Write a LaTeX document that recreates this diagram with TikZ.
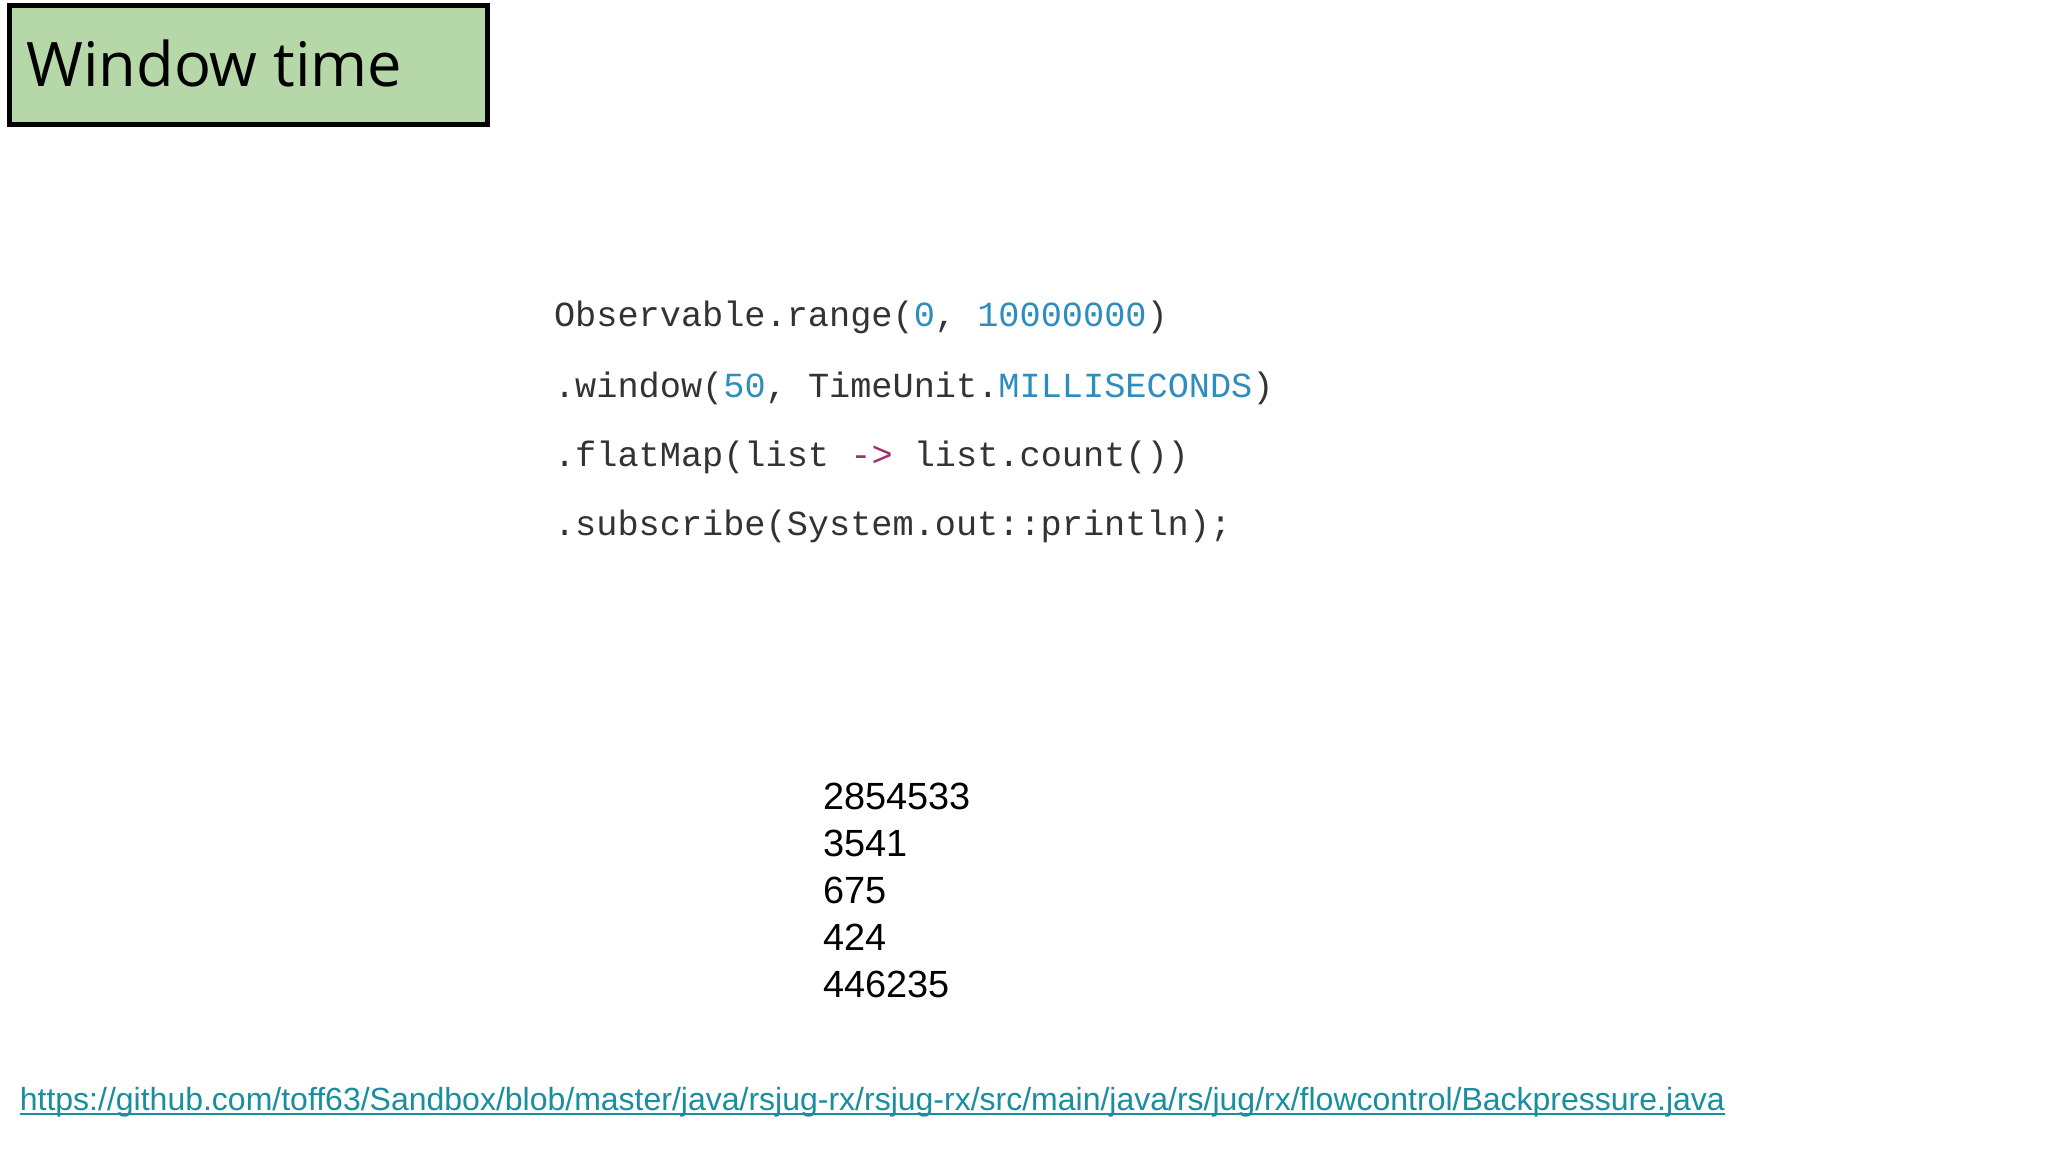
\documentclass[tikz,border=0pt]{standalone}
\usepackage{fontspec}
\setmainfont{Liberation Sans}
\newfontfamily\titlefont{Open Sans}
\newfontfamily\codefont{Liberation Mono}
\definecolor{titlegreen}{HTML}{B6D7A8}
\definecolor{codegray}{HTML}{333333}
\definecolor{codeblue}{HTML}{2E8DBF}
\definecolor{codepurple}{HTML}{A0306A}
\definecolor{linkteal}{HTML}{1A8E9E}
\begin{document}
\begin{tikzpicture}[x=1pt,y=-1pt,
  codeline/.style={anchor=base west,inner sep=0,font=\codefont\fontsize{27}{30}\selectfont,text=codegray},
  numline/.style={anchor=base west,inner sep=0,font=\fontsize{29}{32}\selectfont}]
\useasboundingbox[fill=white] (0,0) rectangle (1568,882);
\node[draw=black,line width=3.5pt,fill=titlegreen,minimum width=366pt,minimum height=91pt,anchor=north west] (title) at (5.5,2.5) {};
\node[anchor=base west,inner sep=0,font=\titlefont\fontsize{47}{50}\selectfont] (tt) at (20,66) {Window time};
\node[codeline] (c1) at (424,250) {Observable.range(\textcolor{codeblue}{0}, \textcolor{codeblue}{10000000})};
\node[codeline] (c2) at (424,304) {.window(\textcolor{codeblue}{50}, TimeUnit.\textcolor{codeblue}{MILLISECONDS})};
\node[codeline] (c3) at (424,357) {.flatMap(list \textcolor{codepurple}{->} list.count())};
\node[codeline] (c4) at (424,410) {.subscribe(System.out::println);};
\node[numline] (n1) at (630,620) {2854533};
\node[numline] (n2) at (630,656) {3541};
\node[numline] (n3) at (630,692) {675};
\node[numline] (n4) at (630,728) {424};
\node[numline] (n5) at (630,764) {446235};
\node[anchor=base west,inner sep=0,text=linkteal,font=\fontsize{24.5}{27}\selectfont] (url) at (15,850) {https://github.com/toff63/Sandbox/blob/master/java/rsjug-rx/rsjug-rx/src/main/java/rs/jug/rx/flowcontrol/Backpressure.java};
\draw[linkteal,line width=1.5pt] ([yshift=-3pt]url.base west) -- ([yshift=-3pt]url.base east);
\end{tikzpicture}
\end{document}
